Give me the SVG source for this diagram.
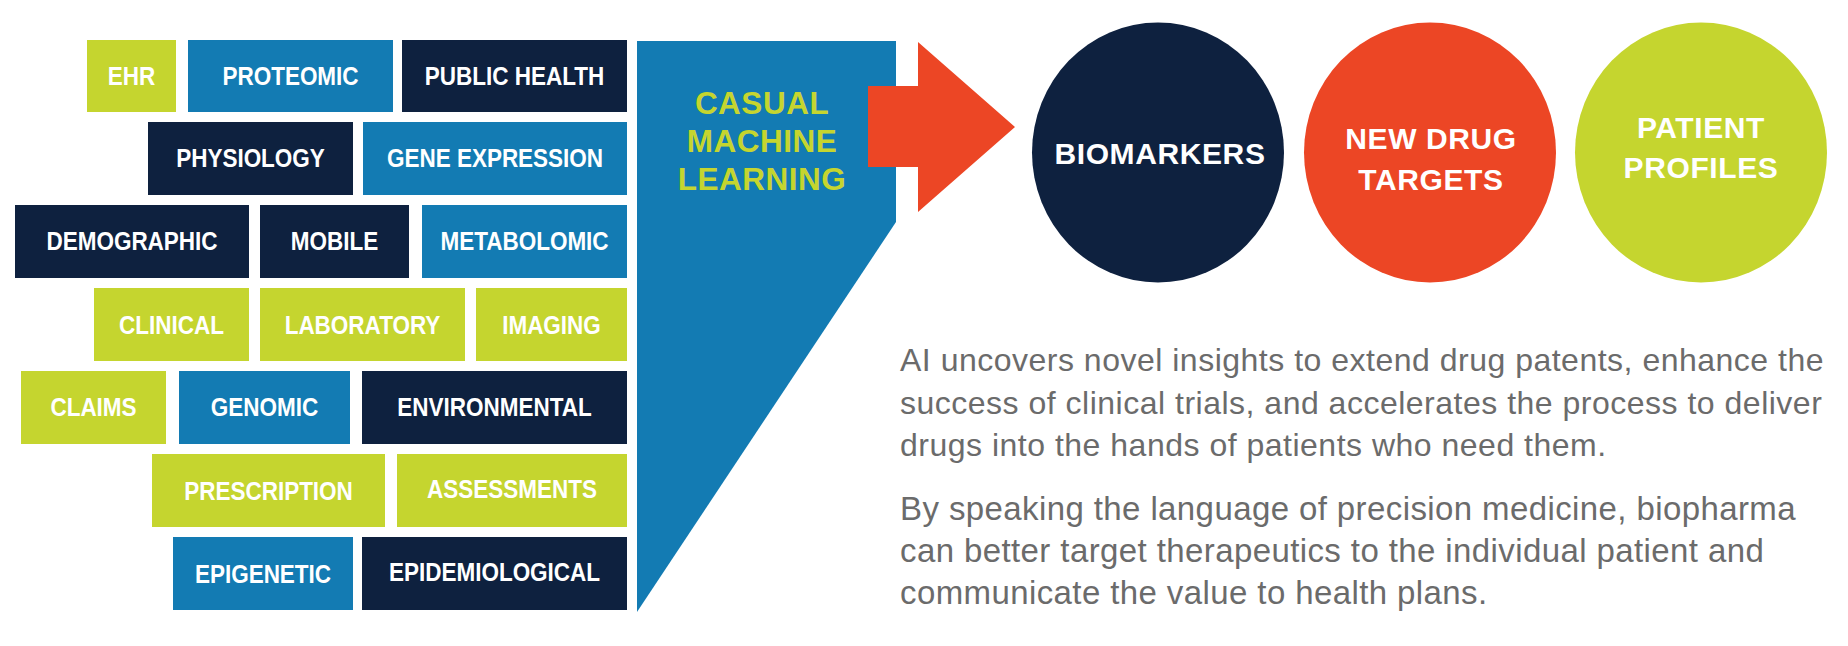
<svg xmlns="http://www.w3.org/2000/svg" width="1848" height="646" viewBox="0 0 1848 646">
<style>
.lime{fill:#c5d52f}
.blue{fill:#137bb3}
.navy{fill:#0e213f}
.red{fill:#ec4625}
.lbl{font-family:"Liberation Sans",Arial,sans-serif;font-weight:bold;font-size:25px;fill:#ffffff;text-anchor:middle}
.ctxt{font-family:"Liberation Sans",Arial,sans-serif;font-weight:bold;font-size:30px;fill:#ffffff;text-anchor:middle;letter-spacing:0.6px}
.cml{font-family:"Liberation Sans",Arial,sans-serif;font-weight:bold;font-size:31.5px;fill:#c5d52f;text-anchor:middle;letter-spacing:0.5px}
.para{font-family:"Liberation Sans",Arial,sans-serif;font-size:32px;fill:#6b6b6b;letter-spacing:0.5px}
.para2{font-size:33px;letter-spacing:0.4px}
</style>
<rect width="1848" height="646" fill="#ffffff"/>

<g id="sources">
<g id="ehr"><rect class="lime" x="87" y="40" width="89" height="72"/><text class="lbl" transform="matrix(0.9 0 0 1 131.5 85)">EHR</text></g>
<g id="proteomic"><rect class="blue" x="188" y="40" width="205" height="72"/><text class="lbl" transform="matrix(0.9 0 0 1 290.5 85)">PROTEOMIC</text></g>
<g id="public-health"><rect class="navy" x="402" y="40" width="225" height="72"/><text class="lbl" transform="matrix(0.9 0 0 1 514.5 85)">PUBLIC HEALTH</text></g>

<g id="physiology"><rect class="navy" x="148" y="122" width="205" height="73"/><text class="lbl" transform="matrix(0.9 0 0 1 250.5 167)">PHYSIOLOGY</text></g>
<g id="gene-expression"><rect class="blue" x="363" y="122" width="264" height="73"/><text class="lbl" transform="matrix(0.9 0 0 1 495 167)">GENE EXPRESSION</text></g>

<g id="demographic"><rect class="navy" x="15" y="205" width="234" height="73"/><text class="lbl" transform="matrix(0.9 0 0 1 132 250)">DEMOGRAPHIC</text></g>
<g id="mobile"><rect class="navy" x="260" y="205" width="149" height="73"/><text class="lbl" transform="matrix(0.9 0 0 1 334.5 250)">MOBILE</text></g>
<g id="metabolomic"><rect class="blue" x="422" y="205" width="205" height="73"/><text class="lbl" transform="matrix(0.9 0 0 1 524.5 250)">METABOLOMIC</text></g>

<g id="clinical"><rect class="lime" x="94" y="288" width="155" height="73"/><text class="lbl" transform="matrix(0.9 0 0 1 171.5 333.5)">CLINICAL</text></g>
<g id="laboratory"><rect class="lime" x="260" y="288" width="205" height="73"/><text class="lbl" transform="matrix(0.9 0 0 1 362.5 333.5)">LABORATORY</text></g>
<g id="imaging"><rect class="lime" x="476" y="288" width="151" height="73"/><text class="lbl" transform="matrix(0.9 0 0 1 551.5 333.5)">IMAGING</text></g>

<g id="claims"><rect class="lime" x="21" y="371" width="145" height="73"/><text class="lbl" transform="matrix(0.9 0 0 1 93.5 416)">CLAIMS</text></g>
<g id="genomic"><rect class="blue" x="179" y="371" width="171" height="73"/><text class="lbl" transform="matrix(0.9 0 0 1 264.5 416)">GENOMIC</text></g>
<g id="environmental"><rect class="navy" x="362" y="371" width="265" height="73"/><text class="lbl" transform="matrix(0.9 0 0 1 494.5 416)">ENVIRONMENTAL</text></g>

<g id="prescription"><rect class="lime" x="152" y="454" width="233" height="73"/><text class="lbl" transform="matrix(0.9 0 0 1 268.5 499.5)">PRESCRIPTION</text></g>
<g id="assessments"><rect class="lime" x="397" y="454" width="230" height="73"/><text class="lbl" transform="matrix(0.9 0 0 1 512 498)">ASSESSMENTS</text></g>

<g id="epigenetic"><rect class="blue" x="173" y="537" width="180" height="73"/><text class="lbl" transform="matrix(0.9 0 0 1 263 583)">EPIGENETIC</text></g>
<g id="epidemiological"><rect class="navy" x="362" y="537" width="265" height="73"/><text class="lbl" transform="matrix(0.9 0 0 1 494.5 581)">EPIDEMIOLOGICAL</text></g>
</g>

<g id="causal-ml">
<polygon class="blue" points="637,41 896,41 896,222 637,612"/>
<text class="cml" x="762" y="113.5">CASUAL</text>
<text class="cml" x="762" y="151.5">MACHINE</text>
<text class="cml" x="762" y="189.5">LEARNING</text>
</g>

<g id="connectors">
<polygon class="red" points="868,86 918,86 918,42 1015,127 918,212 918,167 868,167"/>
</g>

<g id="biomarkers">
<ellipse class="navy" cx="1158" cy="152.5" rx="126" ry="130"/>
<text class="ctxt" x="1160" y="163.5">BIOMARKERS</text>
</g>
<g id="new-drug-targets">
<ellipse class="red" cx="1430" cy="152.5" rx="126" ry="130"/>
<text class="ctxt" x="1431" y="149">NEW DRUG</text>
<text class="ctxt" x="1431" y="190">TARGETS</text>
</g>
<g id="patient-profiles">
<ellipse class="lime" cx="1701" cy="152.5" rx="126" ry="130"/>
<text class="ctxt" x="1701" y="137.5">PATIENT</text>
<text class="ctxt" x="1701" y="177.5">PROFILES</text>
</g>

<g id="description">
<text class="para" x="900" y="371">AI uncovers novel insights to extend drug patents, enhance the</text>
<text class="para" x="900" y="413.5">success of clinical trials, and accelerates the process to deliver</text>
<text class="para" x="900" y="456">drugs into the hands of patients who need them.</text>
<text class="para para2" x="900" y="520">By speaking the language of precision medicine, biopharma</text>
<text class="para para2" x="900" y="562">can better target therapeutics to the individual patient and</text>
<text class="para para2" x="900" y="604">communicate the value to health plans.</text>
</g>
</svg>
